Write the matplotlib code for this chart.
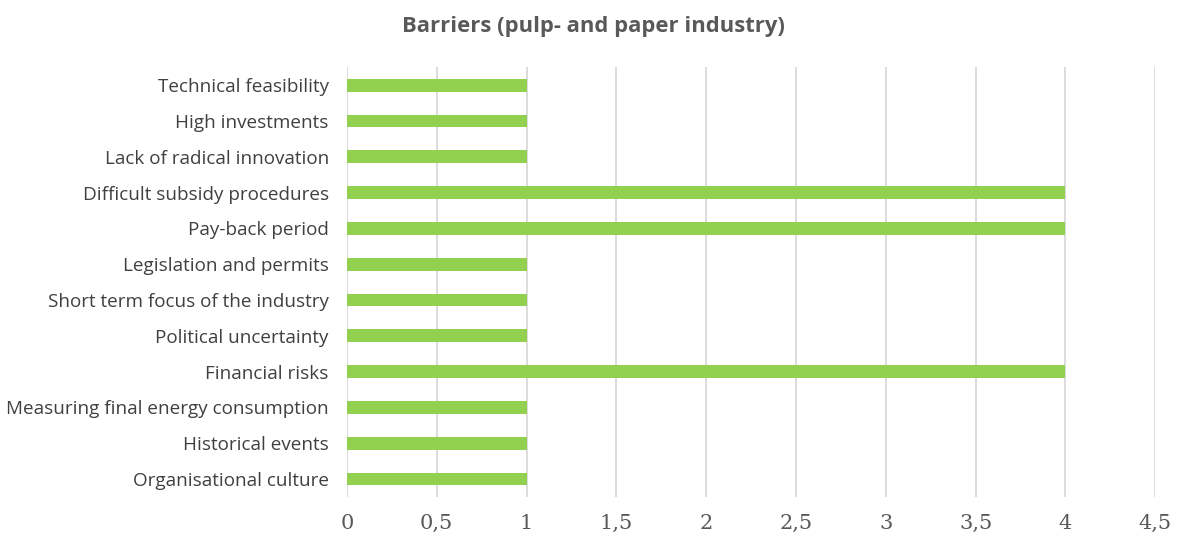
import matplotlib
matplotlib.use("Agg")
import matplotlib.pyplot as plt

categories = [
    "Technical feasibility",
    "High investments",
    "Lack of radical innovation",
    "Difficult subsidy procedures",
    "Pay-back period",
    "Legislation and permits",
    "Short term focus of the industry",
    "Political uncertainty",
    "Financial risks",
    "Measuring final energy consumption",
    "Historical events",
    "Organisational culture",
]
values = [1, 1, 1, 4, 4, 1, 1, 1, 4, 1, 1, 1]
xticks = [0, 0.5, 1, 1.5, 2, 2.5, 3, 3.5, 4, 4.5]
xticklabels = ["0", "0,5", "1", "1,5", "2", "2,5", "3", "3,5", "4", "4,5"]
title = "Barriers (pulp- and paper industry)"

fig = plt.figure(figsize=(11.8, 5.43), dpi=100)
ax = fig.add_axes([0.294, 0.085, 0.685, 0.791])

y = list(range(len(categories)))[::-1]
ax.barh(y, values, height=0.36, color="#92d050", zorder=3)
ax.set_xlim(0, 4.5)
ax.set_ylim(-0.5, len(categories) - 0.5)
ax.set_xticks(xticks)
ax.set_xticklabels(xticklabels, family="DejaVu Serif", fontsize=15, color="#595959")
ax.set_yticks(y)
ax.set_yticklabels(categories, family="Open Sans", fontsize=13.6, color="#404040")
ax.tick_params(axis="both", length=0)
ax.tick_params(axis="x", pad=12)
ax.tick_params(axis="y", pad=13)
ax.xaxis.grid(True, color="#d9d9d9", linewidth=1.3, zorder=0)
ax.set_axisbelow(True)
for s in ax.spines.values():
    s.set_visible(False)

fig.text(0.503, 0.952, title, ha="center", va="center", family="Open Sans",
         fontweight="bold", fontsize=15.8, color="#595959")

fig.savefig("out.png", dpi=100)
